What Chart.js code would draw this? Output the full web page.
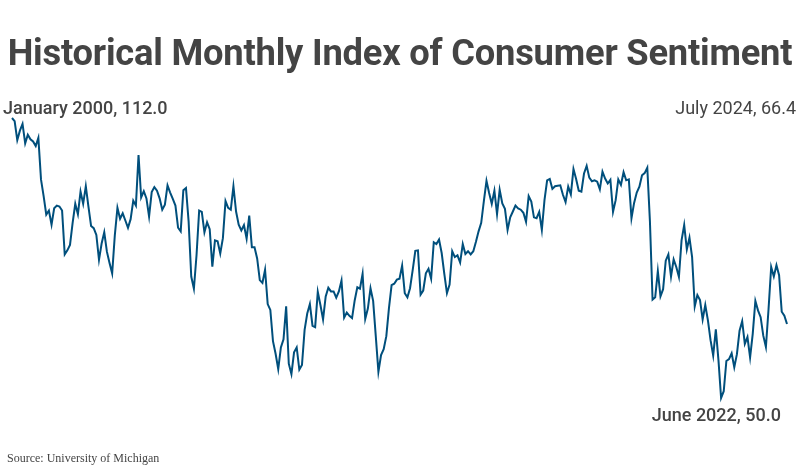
<!DOCTYPE html>
<html>
<head>
<meta charset="utf-8">
<script src="https://cdn.jsdelivr.net/npm/chart.js@4.4.1/dist/chart.umd.min.js"></script>
<style>
  html, body { margin: 0; padding: 0; background: #fff; }
  #wrap { position: relative; width: 800px; height: 473px; overflow: hidden; font-family: Roboto, "Noto Sans", sans-serif; color: #444; }
  #chart { position: absolute; left: 0; top: 0; }
  .t { position: absolute; white-space: nowrap; }
  #title { left: 0; width: 800px; text-align: center; top: 31px; font-size: 36.3px; font-weight: 700; color: #444; letter-spacing: -0.2px; }
  #lab1 { left: 3px; top: 97px; font-size: 18px; font-weight: 500; }
  #lab2 { right: 4px; top: 97px; font-size: 18px; font-weight: 400; }
  #lab3 { right: 19px; top: 404px; font-size: 18px; font-weight: 500; }
  #src { left: 7px; top: 451px; font-size: 12px; font-family: "Liberation Serif", "DejaVu Serif", serif; color: #444; }
</style>
</head>
<body>
<div id="wrap">
  <canvas id="chart" width="800" height="473"></canvas>
  <div class="t" id="title">Historical Monthly Index of Consumer Sentiment</div>
  <div class="t" id="lab1">January 2000, 112.0</div>
  <div class="t" id="lab2">July 2024, 66.4</div>
  <div class="t" id="lab3">June 2022, 50.0</div>
  <div class="t" id="src">Source: University of Michigan</div>
</div>
<script>
const monthNames = ["January","February","March","April","May","June","July","August","September","October","November","December"];
const firstYear = 2000;

const s2000 = [112.0,111.3,107.1,109.2,110.7,106.4,108.3,107.3,106.8,105.8,107.6,98.4];
const s2001 = [94.7,90.6,91.5,88.4,92.0,92.6,92.4,91.5,81.8,82.7,83.9,88.8];
const s2002 = [93.0,90.7,95.7,93.0,96.9,92.4,88.1,87.6,86.1,80.6,84.2,86.7];
const s2003 = [82.4,79.9,77.6,86.0,92.1,89.7,90.9,89.3,87.7,89.6,93.7,92.6];
const s2004 = [103.8,94.4,95.8,94.2,90.2,95.6,96.7,95.9,94.2,91.7,92.8,97.1];
const s2005 = [95.5,94.1,92.6,87.7,86.9,96.0,96.5,89.1,76.9,74.2,81.6,91.5];
const s2006 = [91.2,86.7,88.9,87.4,79.1,84.9,84.7,82.0,85.4,93.6,92.1,91.7];
const s2007 = [96.9,91.3,88.4,87.1,88.3,85.3,90.4,83.4,83.4,80.9,76.1,75.5];
const s2008 = [78.4,70.8,69.5,62.6,59.8,56.4,61.2,63.0,70.3,57.6,55.3,60.1];
const s2009 = [61.2,56.3,57.3,65.1,68.7,70.8,66.0,65.7,73.5,70.6,67.4,72.5];
const s2010 = [74.4,73.6,73.6,72.2,73.6,76.0,67.8,68.9,68.2,67.7,71.6,74.5];
const s2011 = [74.2,77.5,67.5,69.8,74.3,71.5,63.7,55.8,59.5,60.8,63.7,69.9];
const s2012 = [75.0,75.3,76.2,76.4,79.3,73.2,72.3,74.3,78.3,82.6,82.7,72.9];
const s2013 = [73.8,77.6,78.6,76.4,84.5,84.1,85.1,82.1,77.5,73.2,75.1,82.5];
const s2014 = [81.2,81.6,80.0,84.1,81.9,82.5,81.8,82.5,84.6,86.9,88.8,93.6];
const s2015 = [98.1,95.4,93.0,95.9,90.7,96.1,93.1,91.9,87.2,90.0,91.3,92.6];
const s2016 = [92.0,91.7,91.0,89.0,94.7,93.5,90.0,89.8,91.2,87.2,93.8,98.2];
const s2017 = [98.5,96.3,96.9,97.0,97.1,95.0,93.4,96.8,95.1,100.7,98.5,95.9];
const s2018 = [95.7,99.7,101.4,98.8,98.0,98.2,97.9,96.2,100.1,98.6,97.5,98.3];
const s2019 = [91.2,93.8,98.4,97.2,100.0,98.2,98.4,89.8,93.2,95.5,96.8,99.3];
const s2020 = [99.8,101.0,89.1,71.8,72.3,78.1,72.5,74.1,80.4,81.8,76.9,80.7];
const s2021 = [79.0,76.8,84.9,88.3,82.9,85.5,81.2,70.3,72.8,71.7,67.4,70.6];
const s2022 = [67.2,62.8,59.4,65.2,58.4,50.0,51.5,58.2,58.6,59.9,56.8,59.7];
const s2023 = [64.9,67.0,62.0,63.5,59.0,64.2,71.5,69.4,67.9,63.8,61.3,69.7];
const s2024 = [79.0,76.9,79.4,77.2,69.1,68.2,66.4];

const yearly = [s2000,s2001,s2002,s2003,s2004,s2005,s2006,s2007,s2008,s2009,s2010,s2011,s2012,s2013,s2014,s2015,s2016,s2017,s2018,s2019,s2020,s2021,s2022,s2023,s2024];
const values = [].concat(...yearly);
const labels = [];
yearly.forEach((arr, yi) => arr.forEach((v, mi) => labels.push(monthNames[mi] + " " + (firstYear + yi))));

new Chart(document.getElementById("chart"), {
  type: "line",
  data: {
    labels: labels,
    datasets: [{
      data: values,
      borderColor: "#004f7c",
      borderWidth: 2,
      pointRadius: 0,
      tension: 0,
      fill: false,
      clip: false
    }]
  },
  options: {
    responsive: false,
    animation: false,
    devicePixelRatio: 1,
    layout: { padding: { left: 12, right: 13, top: 118, bottom: 75 } },
    plugins: { legend: { display: false }, tooltip: { enabled: false }, title: { display: false } },
    scales: {
      x: { type: "category", offset: false, display: false },
      y: { min: 50, max: 112, display: false }
    }
  }
});
</script>
</body>
</html>
